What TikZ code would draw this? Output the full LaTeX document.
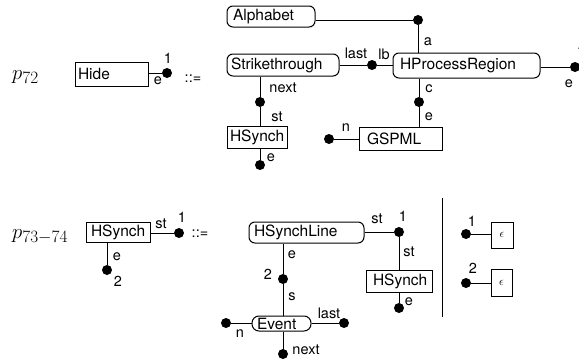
\documentclass[tikz,border=0pt]{standalone}
\usepackage{fontspec}
\setmainfont{TeX Gyre Heros}
\newcommand{\nodefont}{\fontsize{15.5}{18}\selectfont}
\newcommand{\lblfont}{\fontsize{14.5}{17}\selectfont}
\newcommand{\prodname}[1]{{\fontsize{20}{22}\selectfont$p$}\raisebox{-4pt}{\fontsize{16.5}{18}\selectfont$#1$}}
\begin{document}
\begin{tikzpicture}[x=1pt,y=-1pt,
  box/.style={draw, line width=1pt, align=left, inner ysep=0pt, font=\nodefont},
  rbox/.style={box, rounded corners=6pt},
  epsbox/.style={draw, line width=1pt, inner sep=0pt, font=\fontsize{13}{15}\selectfont},
  dot/.style={circle, fill=black, inner sep=0pt, minimum size=10pt},
  lbl/.style={inner sep=0pt, font=\lblfont},
  wire/.style={line width=1pt}]
\useasboundingbox (0,0) rectangle (579,362);

% ---------- rule p72 ----------
\node[anchor=base west, inner sep=0pt] (p72) at (12,79) {\prodname{72}};
\node[box, text width=67pt, inner xsep=3pt, minimum height=24pt] (hide) at (111.5,74) {Hide};
\node[dot] (d1) at (167,73) {};
\node[lbl] (l1e) at (158,81) {e};
\node[lbl] (l1n) at (168,58) {1};
\node[lbl] (def1) at (193,79) {::=};

\node[rbox, text width=76pt, inner xsep=6pt, minimum height=21pt] (alpha) at (271,16.5) {Alphabet};
\node[rbox, text width=104pt, inner xsep=4pt, minimum height=22pt] (strike) at (283,65) {Strikethrough};
\node[rbox, text width=133pt, inner xsep=7pt, minimum height=25pt] (hpr) at (466.5,65.5) {HProcessRegion};
\node[box, text width=67pt, inner xsep=8pt, minimum height=23pt] (gspml) at (400.5,138.5) {GSPML};
\node[box, text width=54pt, inner xsep=3pt, minimum height=22pt] (hs1) at (257,137) {HSynch};

\node[dot] (dA) at (418,20) {};
\node[dot] (dL) at (372,65) {};
\node[dot] (dR) at (575,67) {};
\node[dot] (dC) at (419,102) {};
\node[dot] (dN) at (329,139) {};
\node[dot] (dS) at (260,102) {};
\node[dot] (dE) at (260,165) {};

\draw[wire] (hide.east |- d1) -- (d1);
\draw[wire] (alpha.east |- dA) -- (dA) -- (dA |- hpr.north);
\draw[wire] (strike.east |- dL) -- (dL) -- (dL -| hpr.west);
\draw[wire] (hpr.east |- dR) -- (dR);
\draw[wire] (dC |- hpr.south) -- (dC) -- (dC |- gspml.north);
\draw[wire] (dN) -- (dN -| gspml.west);
\draw[wire] (dS |- strike.south) -- (dS) -- (dS |- hs1.north);
\draw[wire] (dE |- hs1.south) -- (dE);

\node[lbl] (la) at (428,42) {a};
\node[lbl] (llast) at (356,53) {last};
\node[lbl] (llb) at (384,54) {lb};
\node[lbl] (lRe) at (569,84) {e};
\node[lbl] (lR1) at (581,51) {1};
\node[lbl] (lc) at (429,89) {c};
\node[lbl] (lCe) at (429,117) {e};
\node[lbl] (ln) at (346,128) {n};
\node[lbl] (lnext) at (283,88) {next};
\node[lbl] (lst) at (277,117) {st};
\node[lbl] (lEe) at (271,158) {e};

% ---------- rule p73-74 ----------
\node[anchor=base west, inner sep=0pt] (p73) at (12,238) {\prodname{73{-}74}};
\node[box, text width=54pt, inner xsep=5pt, minimum height=20pt] (hs2) at (118,232) {HSynch};
\node[dot] (db1) at (179,233) {};
\node[dot] (db2) at (107,270) {};
\node[lbl] (lb1st) at (161,224) {st};
\node[lbl] (lb1n) at (182,217) {1};
\node[lbl] (lb2e) at (117,257) {e};
\node[lbl] (lb2n) at (118,281) {2};
\node[lbl] (def2) at (200,234) {::=};

\node[rbox, text width=105pt, inner xsep=5pt, minimum height=21pt] (hsl) at (306.5,232.5) {HSynchLine};
\node[box, text width=52pt, inner xsep=7pt, minimum height=22pt] (hs3) at (399,281) {HSynch};
\node[rbox, text width=49pt, inner xsep=5pt, minimum height=15pt, rounded corners=7pt] (ev) at (281.5,323.5) {Event};

\node[dot] (dH1) at (399,232) {};
\node[dot] (dH2) at (399,308) {};
\node[dot] (dH3) at (283,279) {};
\node[dot] (dEn) at (226,323) {};
\node[dot] (dEl) at (344,323) {};
\node[dot] (dEb) at (283,354) {};

\draw[wire] (hs2.east |- db1) -- (db1);
\draw[wire] (db2 |- hs2.south) -- (db2);
\draw[wire] (hsl.east |- dH1) -- (dH1) -- (dH1 |- hs3.north);
\draw[wire] (dH2 |- hs3.south) -- (dH2);
\draw[wire] (dH3 |- hsl.south) -- (dH3) -- (dH3 |- ev.north);
\draw[wire] (dEn) -- (dEn -| ev.west);
\draw[wire] (ev.east |- dEl) -- (dEl);
\draw[wire] (dEb |- ev.south) -- (dEb);

\node[lbl] (lH1st) at (377,219) {st};
\node[lbl] (lH1n) at (403,216) {1};
\node[lbl] (lHvst) at (409,252) {st};
\node[lbl] (lH2e) at (409,302) {e};
\node[lbl] (lH3e) at (292,255) {e};
\node[lbl] (lH3n) at (268,274) {2};
\node[lbl] (ls) at (292,297) {s};
\node[lbl] (lEn) at (240,334) {n};
\node[lbl] (lElast) at (329,313) {last};
\node[lbl] (lEnext) at (306,350) {next};

% alternative separator and empty bodies
\coordinate (sepT) at (442,198);
\coordinate (sepB) at (442,317);
\draw[wire] (sepT) -- (sepB);

\node[epsbox, minimum width=22pt, minimum height=26pt] (eps1) at (502,235) {$\epsilon$};
\node[epsbox, minimum width=21pt, minimum height=27pt] (eps2) at (501.5,282.5) {$\epsilon$};
\node[dot] (de1) at (466,234) {};
\node[dot] (de2) at (466,283) {};
\draw[wire] (de1) -- (de1 -| eps1.west);
\draw[wire] (de2) -- (de2 -| eps2.west);
\node[lbl] (le1) at (472,221) {1};
\node[lbl] (le2) at (473,268) {2};
\end{tikzpicture}
\end{document}
